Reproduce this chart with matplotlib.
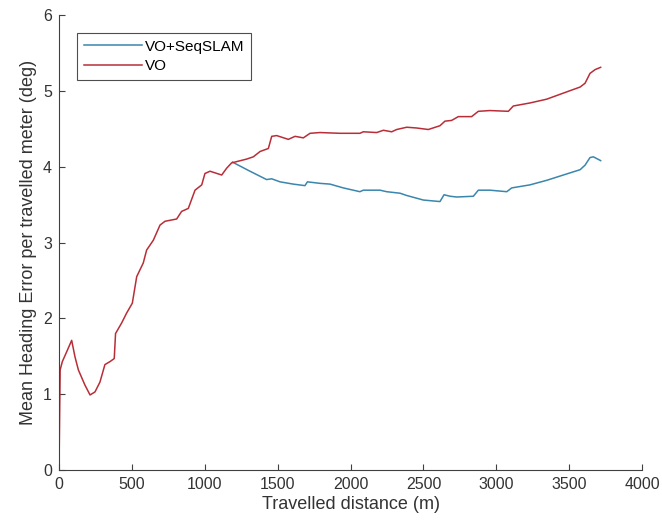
import matplotlib.pyplot as plt

# VO curve (travelled distance [m], mean heading error [deg])
vo_x = [0, 8, 23, 53, 87, 110, 133, 178, 213, 247, 281, 315, 350, 379, 388,
        430, 464, 503, 533, 578, 601, 647, 693, 727, 807, 841, 887, 933, 979,
        1001, 1036, 1116, 1150, 1184, 1287, 1333, 1379, 1436, 1459, 1493,
        1573, 1619, 1676, 1722, 1790, 1927, 2064, 2087, 2179, 2225, 2282,
        2316, 2385, 2453, 2533, 2613, 2647, 2693, 2739, 2830, 2876, 2956,
        3082, 3116, 3230, 3345, 3459, 3574, 3608, 3642, 3677, 3715]
vo_y = [0.0, 1.32, 1.43, 1.56, 1.71, 1.49, 1.32, 1.12, 0.99, 1.03, 1.16, 1.39,
        1.43, 1.47, 1.80, 1.94, 2.07, 2.20, 2.55, 2.73, 2.90, 3.03, 3.23,
        3.28, 3.31, 3.41, 3.45, 3.69, 3.76, 3.91, 3.94, 3.89, 3.98, 4.05,
        4.10, 4.13, 4.20, 4.24, 4.40, 4.41, 4.36, 4.40, 4.38, 4.44, 4.45,
        4.44, 4.44, 4.46, 4.45, 4.48, 4.46, 4.49, 4.52, 4.51, 4.49, 4.54,
        4.60, 4.61, 4.66, 4.66, 4.73, 4.74, 4.73, 4.80, 4.84, 4.89, 4.97,
        5.05, 5.10, 5.23, 5.28, 5.31]

# VO+SeqSLAM curve, diverges from VO at about 1190 m
seq_x = [1190, 1310, 1424, 1459, 1516, 1607, 1687, 1704, 1790, 1859, 1950,
         2064, 2087, 2202, 2247, 2339, 2385, 2499, 2613, 2641, 2682, 2728,
         2842, 2876, 2956, 3071, 3105, 3230, 3345, 3459, 3574, 3608, 3642,
         3665, 3715]
seq_y = [4.06, 3.94, 3.83, 3.84, 3.80, 3.77, 3.75, 3.80, 3.78, 3.77, 3.72,
         3.67, 3.69, 3.69, 3.67, 3.65, 3.62, 3.56, 3.54, 3.63, 3.61, 3.60,
         3.61, 3.69, 3.69, 3.67, 3.72, 3.76, 3.82, 3.89, 3.96, 4.02, 4.12,
         4.13, 4.08]

plt.rcParams['font.family'] = ['Liberation Sans', 'DejaVu Sans']

fig = plt.figure(figsize=(6.62, 5.28), dpi=100)
ax = fig.add_axes([0.0891, 0.1098, 0.881, 0.8618])

ax.plot(seq_x, seq_y, color='#3a86ad', lw=1.1, label='VO+SeqSLAM')
ax.plot(vo_x, vo_y, color='#b82e38', lw=1.1, label='VO')

ax.set_xlim(0, 4000)
ax.set_ylim(0, 6)
ax.set_xticks(range(0, 4001, 500))
ax.set_yticks(range(0, 7))
ax.spines['top'].set_visible(False)
ax.spines['right'].set_visible(False)
for s in ('left', 'bottom'):
    ax.spines[s].set_color('#404040')
    ax.spines[s].set_linewidth(0.8)
ax.tick_params(direction='in', length=4, width=0.8, colors='#404040',
               labelsize=11.5, labelcolor='#333333', pad=5)

ax.set_xlabel('Travelled distance (m)', fontsize=13, color='#333333', labelpad=3)
ax.set_ylabel('Mean Heading Error per travelled meter (deg)', fontsize=13,
              color='#333333', labelpad=4)

leg = ax.legend(loc='upper left', bbox_to_anchor=(0.031, 0.961), fontsize=11,
                frameon=True, fancybox=False, handlelength=3.8,
                handletextpad=0.2, borderpad=0.45, labelspacing=0.35,
                borderaxespad=0)
leg.get_frame().set_edgecolor('#222222')
leg.get_frame().set_linewidth(0.8)

fig.savefig('out.png', dpi=100)
